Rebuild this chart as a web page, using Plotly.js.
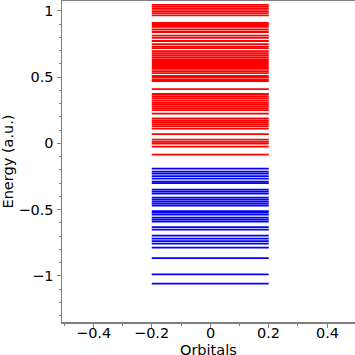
<!DOCTYPE html>
<html>
<head>
<meta charset="utf-8">
<script src="https://cdn.plot.ly/plotly-3.0.1.min.js"></script>
<style>html,body{margin:0;padding:0;background:#fff;}#chart{width:355px;height:355px;}</style>
</head>
<body>
<div id="chart"></div>
<script>
// Orbital energies (a.u.)
const virtualEnergies = [
  1.044, 1.029, 1.014, 0.998, 0.983, 0.965,
  0.908, 0.893, 0.878, 0.859, 0.840, 0.813, 0.795, 0.772,
  0.749, 0.730, 0.719, 0.696, 0.681, 0.666, 0.651, 0.636, 0.621, 0.606,
  0.591, 0.576, 0.561, 0.545, 0.530, 0.508, 0.496, 0.481, 0.470,
  0.409, 0.372, 0.356, 0.341, 0.323, 0.307, 0.296, 0.281, 0.266, 0.251,
  0.224, 0.187, 0.171, 0.160, 0.145, 0.130, 0.111, 0.069, 0.028,
  0.011, -0.003, -0.025, -0.085
];
const occupiedEnergies = [
  -0.191, -0.214, -0.229, -0.248, -0.267, -0.289, -0.301,
  -0.350, -0.365, -0.380, -0.410, -0.425, -0.440, -0.455, -0.471,
  -0.512, -0.523, -0.539, -0.561, -0.576, -0.591, -0.633, -0.652,
  -0.697, -0.720, -0.739, -0.758, -0.788, -0.867, -0.990, -1.060
];
const levelExtent = [-0.2, 0.2];
const xTickVals = [-0.4, -0.2, 0, 0.2, 0.4];
const xTickText = ['\u22120.4', '\u22120.2', '0', '0.2', '0.4'];
const yTickVals = [-1, -0.5, 0, 0.5, 1];
const yTickText = ['\u22121', '\u22120.5', '0', '0.5', '1'];

function levelTrace(energies, color) {
  const x = [], y = [];
  energies.forEach(e => {
    x.push(levelExtent[0], levelExtent[1], null);
    y.push(e, e, null);
  });
  return {x: x, y: y, type: 'scatter', mode: 'lines',
          line: {color: color, width: 1.8}, hoverinfo: 'skip', showlegend: false};
}

const axisColor = '#808080';
const fnt = {family: 'DejaVu Sans', size: 14.5, color: '#000'};

const annotations = xTickVals.map((v, i) => ({
  x: v, xref: 'x', y: -0.034, yref: 'paper', text: xTickText[i],
  showarrow: false, xanchor: 'center', yanchor: 'middle', font: fnt
}));
annotations.push({
  x: 0.5, xref: 'paper', y: -0.088, yref: 'paper', text: 'Orbitals',
  showarrow: false, xanchor: 'center', yanchor: 'middle', font: fnt
});

const layout = {
  width: 355, height: 355,
  margin: {l: 62, r: 0, t: 1, b: 33},
  paper_bgcolor: '#fff', plot_bgcolor: '#fff',
  showlegend: false,
  font: fnt,
  annotations: annotations,
  xaxis: {
    range: [-0.507, 0.495], showgrid: false, zeroline: false,
    showline: true, linecolor: axisColor, linewidth: 1.5, mirror: true,
    ticks: 'outside', ticklen: 4, tickwidth: 1, tickcolor: axisColor,
    tickvals: xTickVals, showticklabels: false,
    minor: {tickvals: [-0.5, -0.3, -0.1, 0.1, 0.3], ticks: 'outside', ticklen: 2, tickcolor: axisColor},
    automargin: false
  },
  yaxis: {
    range: [-1.349, 1.074], showgrid: false, zeroline: false,
    showline: true, linecolor: axisColor, linewidth: 1.5,
    ticks: 'outside', ticklen: 4, tickwidth: 1, tickcolor: axisColor,
    tickvals: yTickVals, ticktext: yTickText,
    minor: {dtick: 0.1, ticks: 'outside', ticklen: 2, tickcolor: axisColor},
    tickfont: fnt,
    title: {text: 'Energy (a.u.)', font: fnt, standoff: 1},
    automargin: false
  }
};

Plotly.newPlot('chart', [levelTrace(virtualEnergies, '#ff0000'), levelTrace(occupiedEnergies, '#0000ff')], layout, {staticPlot: true, displayModeBar: false});
</script>
</body>
</html>
